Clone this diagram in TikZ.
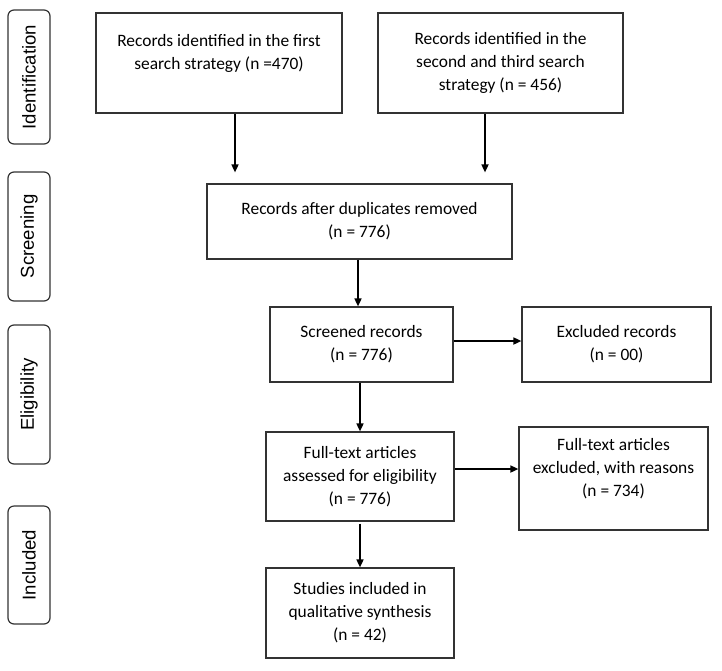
\documentclass[tikz,border=0pt]{standalone}
\usepackage{fontspec}
\setmainfont{Carlito}
\newfontfamily\stagefont{Liberation Sans}
\usetikzlibrary{positioning, arrows.meta, calc}

\begin{document}
\begin{tikzpicture}[x=1pt,y=-1pt,
  box/.style={draw=black!80, line width=1.2pt, align=center, inner sep=0pt,
    font=\fontsize{17.4}{23}\selectfont},
  stage/.style={draw=black!80, line width=1.2pt, rounded corners=6pt, rotate=90,
    minimum height=42pt, inner sep=0pt, font=\stagefont\fontsize{18.6}{22}\selectfont},
  arr/.style={line width=1.6pt, -{Triangle[length=8pt,width=7pt]}}]
\useasboundingbox (0,0) rectangle (722,670);

% stages on the left
\node[stage, minimum width=134pt] (ident) at (29,77) {Identification};
\node[stage, minimum width=129pt] (screen) at (29,236.5) {Screening};
\node[stage, minimum width=139pt] (elig) at (29,394.5) {Eligibility};
\node[stage, minimum width=118pt] (incl) at (29,565) {Included};

% boxes
\node[box, minimum width=246pt, minimum height=100pt] (first) at (219,63)
  {Records identified in the first\\search strategy (n =470)\\\mbox{}};
\node[box, minimum width=245pt, minimum height=100pt] (second) at (500.5,63)
  {Records identified in the\\second and third search\\strategy (n = 456)};
\node[box, minimum width=305pt, minimum height=75pt] (dup) at (359.5,221.5)
  {Records after duplicates removed\\(n = 776)};
\node[box, minimum width=183pt, minimum height=75pt] (screened) at (361.5,344.5)
  {Screened records\\(n = 776)};
\node[box, minimum width=189pt, minimum height=75pt] (excl) at (616.5,344.5)
  {Excluded records\\(n = 00)};
\node[box, minimum width=188pt, minimum height=89pt] (full) at (360,476.5)
  {Full-text articles\\assessed for eligibility\\(n = 776)};
\node[box, minimum width=189pt, minimum height=103pt] (fullexcl) at (613.5,478.5)
  {Full-text articles\\excluded, with reasons\\(n = 734)\\\mbox{}};
\node[box, minimum width=188pt, minimum height=90pt] (studies) at (360,613)
  {Studies included in\\qualitative synthesis\\(n = 42)};

% arrows
\draw[arr, shorten >=11pt] ([xshift=16pt]first.south) -- ([xshift=16pt]first.south |- dup.north);
\draw[arr, shorten >=11pt] ([xshift=-15.5pt]second.south) -- ([xshift=-15.5pt]second.south |- dup.north);
\draw[arr] ([xshift=-1.5pt]dup.south) -- ([xshift=-1.5pt]dup.south |- screened.north);
\draw[arr] ([yshift=3.5pt]screened.east) -- ([yshift=3.5pt]screened.east -| excl.west);
\draw[arr] ([xshift=-1.5pt]screened.south) -- ([xshift=-1.5pt]screened.south |- full.north);
\draw[arr] ([yshift=7.5pt]full.east) -- ([yshift=7.5pt]full.east -| fullexcl.west);
\draw[arr] ([yshift=-2pt]full.south) -- (full.south |- studies.north);
\end{tikzpicture}
\end{document}
